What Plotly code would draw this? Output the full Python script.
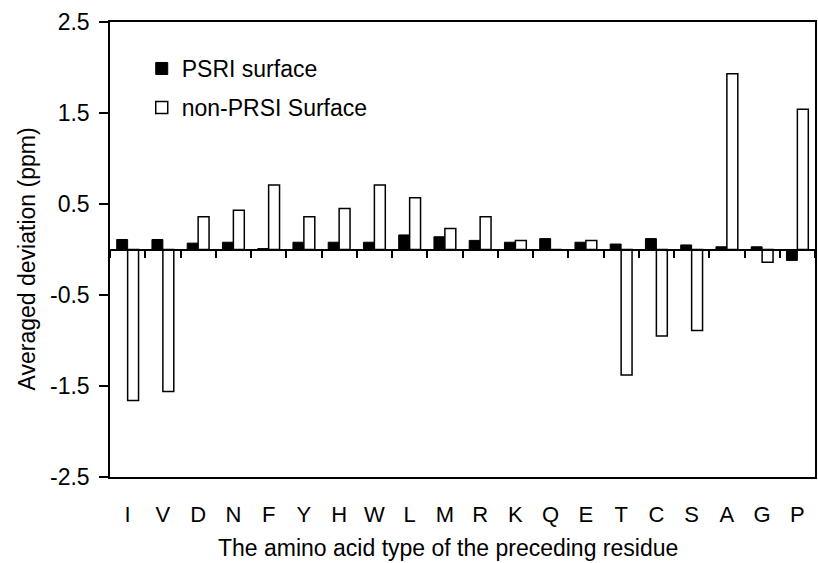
import plotly.graph_objects as go

# Residue type of the preceding residue
residues = ["I", "V", "D", "N", "F", "Y", "H", "W", "L", "M",
            "R", "K", "Q", "E", "T", "C", "S", "A", "G", "P"]

# Averaged deviation (ppm) for each surface class
psri_surface = [0.11, 0.11, 0.07, 0.08, 0.01, 0.08, 0.08, 0.08, 0.16, 0.14,
                0.10, 0.08, 0.12, 0.08, 0.06, 0.12, 0.05, 0.03, 0.03, -0.12]
non_psri_surface = [-1.66, -1.56, 0.36, 0.43, 0.71, 0.36, 0.45, 0.71, 0.57, 0.23,
                    0.36, 0.10, 0.0, 0.10, -1.38, -0.95, -0.89, 1.93, -0.14, 1.54]

y_ticks = [2.5, 1.5, 0.5, -0.5, -1.5, -2.5]

FONT = "Arial, 'Liberation Sans', sans-serif"

fig = go.Figure()

fig.add_trace(go.Bar(
    x=residues, y=psri_surface, name="PSRI surface",
    marker=dict(color="black", line=dict(color="black", width=1)),
    legendgroup="a",
))
fig.add_trace(go.Bar(
    x=residues, y=non_psri_surface, name="non-PRSI Surface",
    marker=dict(color="white", line=dict(color="black", width=1.5)),
    legendgroup="b",
))

# carrier trace for the category axis drawn along y = 0
fig.add_trace(go.Scatter(
    x=residues, y=[0] * len(residues), xaxis="x2", mode="markers",
    marker=dict(opacity=0), showlegend=False, hoverinfo="skip",
))

fig.update_layout(
    width=818, height=563,
    margin=dict(l=110, r=1, t=22, b=86),
    paper_bgcolor="white", plot_bgcolor="white",
    font=dict(family=FONT, size=22, color="black"),
    barmode="group", bargap=0.38, bargroupgap=0,
    showlegend=True,
    legend=dict(
        x=0.045, y=0.945, xanchor="left", yanchor="top",
        bgcolor="rgba(0,0,0,0)", borderwidth=0,
        font=dict(family=FONT, size=23, color="black"),
        tracegroupgap=6,
    ),
    xaxis=dict(
        type="category", range=[-0.5, 19.5],
        showline=True, linecolor="black", linewidth=1.5, mirror=True,
        ticks="", showgrid=False, zeroline=False,
        tickfont=dict(family=FONT, size=22, color="black"),
        ticklabelstandoff=17,
    ),
    xaxis2=dict(
        type="category", range=[-0.5, 19.5], overlaying="x",
        anchor="free", position=0.5, side="bottom",
        showline=True, linecolor="black", linewidth=1.5,
        ticks="outside", ticklen=8, tickwidth=1.5, tickcolor="black",
        tickson="boundaries", showticklabels=False,
        showgrid=False, zeroline=False,
    ),
    yaxis=dict(
        range=[-2.5, 2.5], tickmode="array", tickvals=y_ticks,
        ticktext=[f"{v:.1f}" for v in y_ticks],
        showline=True, linecolor="black", linewidth=1.5, mirror=True,
        ticks="outside", ticklen=9, tickwidth=1.5, tickcolor="black",
        showgrid=False, zeroline=False,
        tickfont=dict(family=FONT, size=23, color="black"),
        ticklabelstandoff=5,
    ),
    annotations=[
        dict(text="Averaged deviation (ppm)", textangle=-90,
             xref="paper", yref="paper", x=-0.118, y=0.48,
             xanchor="center", yanchor="middle", showarrow=False,
             font=dict(family=FONT, size=23, color="black")),
        dict(text="The amino acid type of the preceding residue",
             xref="paper", yref="paper", x=0.48, y=-0.156,
             xanchor="center", yanchor="middle", showarrow=False,
             font=dict(family=FONT, size=23, color="black")),
    ],
)

fig.write_html("out.html")
